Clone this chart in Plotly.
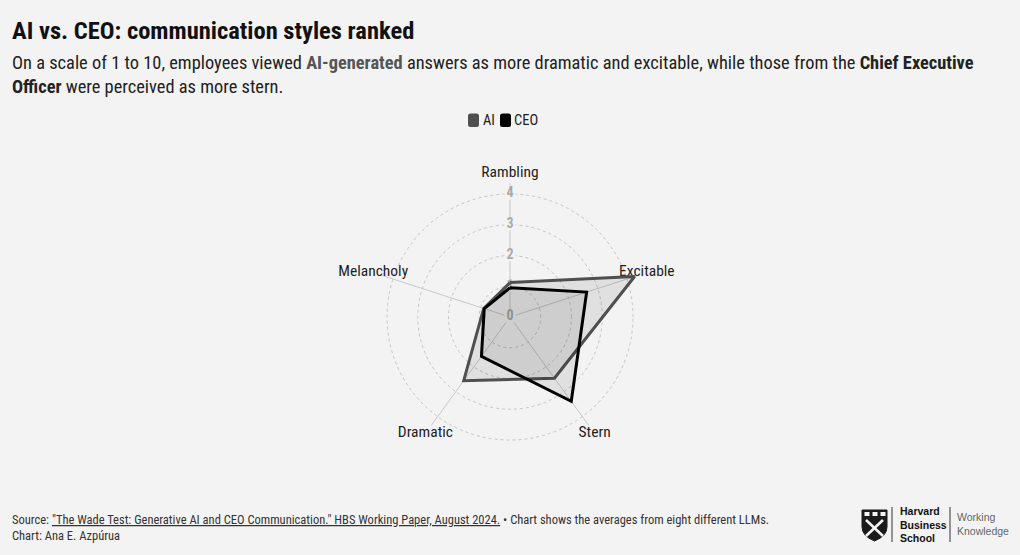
import plotly.graph_objects as go

# ---------------- data ----------------
categories = ["Rambling", "Excitable", "Stern", "Dramatic", "Melancholy"]
ai_values = [1.12, 4.26, 2.46, 2.56, 0.90]
ceo_values = [0.95, 2.62, 3.39, 1.58, 0.88]
series_names = ["AI", "CEO"]
radial_ticks = [0, 1, 2, 3, 4]
spoke_length = 4.35
label_radius = 4.68
radial_max = 4.8

# ---------------- style ----------------
W, H = 1020, 555
BG = "#f3f3f3"
FONT = "Roboto Condensed, Liberation Sans Narrow, DejaVu Sans Condensed, sans-serif"
AI_LINE = "#4f4f4f"
CEO_LINE = "#000000"
FILL = "rgba(0,0,0,0.08)"


def px(x):
    return x / W


def py(y):
    return 1 - y / H


UNIT = 30.75  # pixels per value unit
cx, cy = 510, 317
R = radial_max * UNIT

fig = go.Figure()

# spokes (angle lines)
spoke_r, spoke_t = [], []
for c in categories:
    spoke_r += [0, spoke_length, None]
    spoke_t += [c, c, c]
fig.add_trace(go.Scatterpolar(
    r=spoke_r, theta=spoke_t, mode="lines", connectgaps=False,
    line=dict(color="#c8c8c8", width=1), hoverinfo="skip", showlegend=False,
))

# radial tick labels (drawn beneath the data, like a chart scale)
fig.add_trace(go.Scatterpolar(
    r=radial_ticks,
    theta=[categories[0]] * len(radial_ticks),
    mode="markers+text",
    text=[str(v) for v in radial_ticks],
    textposition="middle center",
    textfont=dict(family=FONT, size=14, color="#aaaaaa", weight="bold"),
    marker=dict(symbol="square", size=11, color=BG),
    hoverinfo="skip",
    showlegend=False,
))

# category (point) labels
fig.add_trace(go.Scatterpolar(
    r=[label_radius] * len(categories),
    theta=categories,
    mode="text",
    text=categories,
    textposition="middle center",
    textfont=dict(family=FONT, size=15.5, color="#1e1e1e"),
    cliponaxis=False,
    hoverinfo="skip",
    showlegend=False,
))


def closed(vals):
    return list(vals) + [vals[0]]


theta_closed = categories + [categories[0]]

fig.add_trace(go.Scatterpolar(
    r=closed(ai_values), theta=theta_closed, name=series_names[0],
    mode="lines", fill="toself", fillcolor=FILL,
    line=dict(color=AI_LINE, width=3), showlegend=False,
))
fig.add_trace(go.Scatterpolar(
    r=closed(ceo_values), theta=theta_closed, name=series_names[1],
    mode="lines", fill="toself", fillcolor=FILL,
    line=dict(color=CEO_LINE, width=3), showlegend=False,
))

shapes = []
annotations = []

# title & subtitle
annotations.append(dict(
    x=px(10), y=py(31), xref="paper", yref="paper", xanchor="left", yanchor="middle",
    text="<b>AI vs. CEO: communication styles ranked</b>", showarrow=False,
    font=dict(family=FONT, size=24.5, color="#111111"),
))
annotations.append(dict(
    x=px(10), y=py(75), xref="paper", yref="paper", xanchor="left", yanchor="middle",
    align="left",
    text=("On a scale of 1 to 10, employees viewed <b><span style='color:#555555'>AI-generated</span></b> "
          "answers as more dramatic and excitable, while those from the <b>Chief Executive<br>"
          "Officer</b> were perceived as more stern."),
    showarrow=False,
    font=dict(family=FONT, size=18.4, color="#222222"),
))

# legend (custom, rounded squares)
def rounded_rect(x0, y0, x1, y1, r):
    X0, X1 = px(x0), px(x1)
    return (f"M {px(x0 + r)},{py(y0)} L {px(x1 - r)},{py(y0)} Q {X1},{py(y0)} {X1},{py(y0 + r)} "
            f"L {X1},{py(y1 - r)} Q {X1},{py(y1)} {px(x1 - r)},{py(y1)} "
            f"L {px(x0 + r)},{py(y1)} Q {X0},{py(y1)} {X0},{py(y1 - r)} "
            f"L {X0},{py(y0 + r)} Q {X0},{py(y0)} {px(x0 + r)},{py(y0)} Z")


legend_items = [(series_names[0], AI_LINE, 468, 481), (series_names[1], CEO_LINE, 500, 512)]
for name, col, sx, tx in legend_items:
    shapes.append(dict(type="path", xref="paper", yref="paper",
                       path=rounded_rect(sx, 113.5, sx + 11, 127, 2.5),
                       fillcolor=col, line=dict(width=0)))
    annotations.append(dict(x=px(tx), y=py(120.5), xref="paper", yref="paper",
                            xanchor="left", yanchor="middle", text=name, showarrow=False,
                            font=dict(family=FONT, size=14.5, color="#222222")))

# footer
annotations.append(dict(
    x=px(10), y=py(527), xref="paper", yref="paper", xanchor="left", yanchor="middle",
    align="left",
    text=("Source: <span style='text-decoration:underline'>\"The Wade Test: Generative AI and CEO "
          "Communication.\" HBS Working Paper, August 2024.</span> \u2022 Chart shows the averages "
          "from eight different LLMs.<br>Chart: Ana E. Azp\u00farua"),
    showarrow=False,
    font=dict(family=FONT, size=12.5, color="#333333"),
))

# logo: shield
shield = (f"M {px(862)},{py(510)} L {px(887)},{py(510)} L {px(887)},{py(527)} "
          f"Q {px(887)},{py(536)} {px(874.5)},{py(541)} Q {px(862)},{py(536)} {px(862)},{py(527)} Z")
shapes.append(dict(type="path", xref="paper", yref="paper", path=shield,
                   fillcolor="#1a1a1a", line=dict(color="#1a1a1a", width=1)))
for bx in (864.5, 872.5, 880.5):
    shapes.append(dict(type="rect", xref="paper", yref="paper",
                       x0=px(bx), x1=px(bx + 5), y0=py(512), y1=py(516),
                       fillcolor="#f3f3f3", line=dict(width=0)))
shapes.append(dict(type="line", xref="paper", yref="paper",
                   x0=px(866), y0=py(520), x1=px(883), y1=py(536),
                   line=dict(color="#f3f3f3", width=2.5)))
shapes.append(dict(type="line", xref="paper", yref="paper",
                   x0=px(883), y0=py(520), x1=px(866), y1=py(536),
                   line=dict(color="#f3f3f3", width=2.5)))
shapes.append(dict(type="line", xref="paper", yref="paper",
                   x0=px(892), y0=py(507), x1=px(892), y1=py(542),
                   line=dict(color="#333333", width=1)))
shapes.append(dict(type="line", xref="paper", yref="paper",
                   x0=px(950), y0=py(507), x1=px(950), y1=py(542),
                   line=dict(color="#333333", width=1)))
annotations.append(dict(
    x=px(898), y=py(524.5), xref="paper", yref="paper", xanchor="left", yanchor="middle",
    align="left", text="<b>Harvard<br>Business<br>School</b>", showarrow=False,
    font=dict(family="Liberation Sans, Arial, sans-serif", size=10.5, color="#111111"),
))
annotations.append(dict(
    x=px(955), y=py(524), xref="paper", yref="paper", xanchor="left", yanchor="middle",
    align="left", text="Working<br>Knowledge", showarrow=False,
    font=dict(family="Liberation Sans, Arial, sans-serif", size=10.5, color="#666666"),
))

fig.update_layout(
    width=W, height=H,
    margin=dict(l=0, r=0, t=0, b=0),
    paper_bgcolor=BG, plot_bgcolor=BG,
    showlegend=False,
    font=dict(family=FONT),
    shapes=shapes,
    annotations=annotations,
    polar=dict(
        domain=dict(x=[px(cx - R), px(cx + R)], y=[py(cy + R), py(cy - R)]),
        bgcolor="rgba(0,0,0,0)",
        radialaxis=dict(range=[0, radial_max], tickvals=radial_ticks[1:], showticklabels=False,
                        ticks="", showline=False, gridcolor="#c4c4c4", griddash="dot",
                        gridwidth=1, angle=90),
        angularaxis=dict(direction="clockwise", rotation=90, showline=False,
                         showticklabels=False, showgrid=False, ticks=""),
    ),
)

fig.write_html("out.html")
